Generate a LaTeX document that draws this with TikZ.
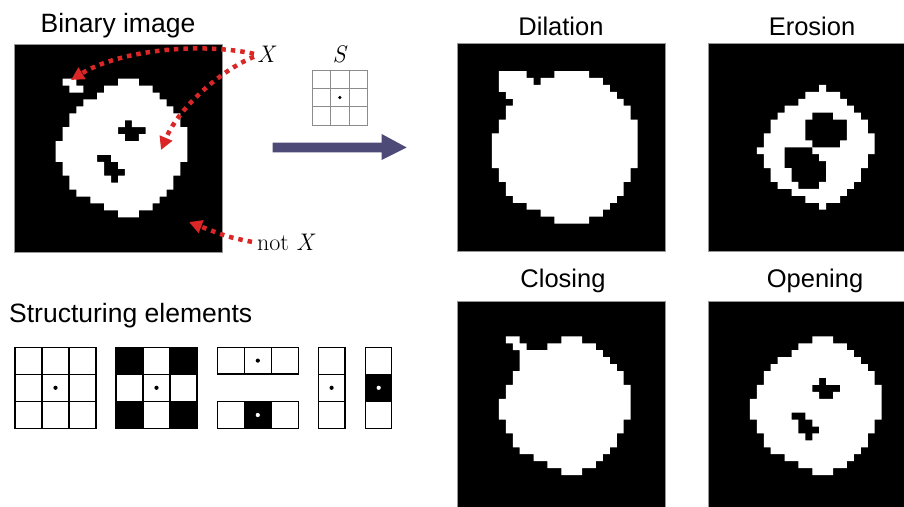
\documentclass[tikz,border=0pt]{standalone}
\usepackage{fontspec}
\setsansfont{Liberation Sans}
\usetikzlibrary{arrows.meta}

\definecolor{dotred}{RGB}{218,38,38}
\definecolor{flowarrow}{RGB}{78,74,120}
\definecolor{framegray}{RGB}{150,150,150}
\definecolor{sgridgray}{RGB}{140,140,140}

% ---- 30x30 binary images and 3x3 morphology --------------------------
% a pixel (r,c) of image <n> is white when \px/<n>/<r>/<c> is defined
\def\mrpx{6.93333}
\newcount\mrhits
\newcommand\mrseed[2]{%
  \foreach \rr/\aa/\bb in {#2}{%
    \foreach \cc in {\aa,...,\bb}{%
      \expandafter\gdef\csname px/#1/\the\numexpr\rr\relax/\the\numexpr\cc\relax\endcsname{}}}}
\newcommand\mrchk[3]{%
  \ifcsname px/#1/\the\numexpr#2\relax/\the\numexpr#3\relax\endcsname
    \global\advance\mrhits by 1\relax
  \fi}
% #3 = 1 gives dilation, #3 = 9 gives erosion
\newcommand\mrop[3]{%
  \foreach \ri in {0,...,29}{%
    \foreach \ci in {0,...,29}{%
      \global\mrhits=0\relax
      \mrchk{#1}{\ri-1}{\ci-1}\mrchk{#1}{\ri-1}{\ci}\mrchk{#1}{\ri-1}{\ci+1}%
      \mrchk{#1}{\ri}{\ci-1}\mrchk{#1}{\ri}{\ci}\mrchk{#1}{\ri}{\ci+1}%
      \mrchk{#1}{\ri+1}{\ci-1}\mrchk{#1}{\ri+1}{\ci}\mrchk{#1}{\ri+1}{\ci+1}%
      \ifnum\mrhits<#3\relax\else
        \expandafter\gdef\csname px/#2/\ri/\ci\endcsname{}%
      \fi}}}
\newcommand\mrbuild[3]{%
  \gdef\mrpath{}%
  \foreach \ri in {0,...,29}{%
    \foreach \ci in {0,...,29}{%
      \ifcsname px/#1/\ri/\ci\endcsname
        \xdef\mrpath{\mrpath(#2+\ci*\mrpx,#3+\ri*\mrpx)rectangle++(\mrpx,\mrpx)}%
      \fi}}}
\newcommand\mrimage[3]{%
  \fill[black] (#2,#3) rectangle ++(208,208);
  \mrbuild{#1}{#2}{#3}%
  \fill[white] \mrpath;
  \draw[framegray, line width=0.8pt] (#2,#3) rectangle ++(208,208);}

\tikzset{
  ttl/.style={font=\sffamily\fontsize{25.5}{30}\selectfont, inner sep=0pt, anchor=base},
  bigttl/.style={ttl, font=\sffamily\fontsize{26.5}{31}\selectfont},
  lab/.style={font=\fontsize{24}{28}\selectfont, inner sep=0pt},
  redarrow/.style={dotred, line width=4.5pt, dash pattern=on 4.5pt off 5pt,
    -{Triangle[length=13pt,width=13pt]}},
  seline/.style={draw=black, line width=1.1pt},
}

\begin{document}
\begin{tikzpicture}[x=1pt, y=-1pt]
\useasboundingbox (0,0) rectangle (904,506);
\fill[white] (0,0) rectangle (904,506);

% source image X and its transforms
\mrseed{X}{5/7/8,5/15/17,6/8/9,6/13/19,7/12/20,8/10/21,9/9/22,10/8/23,
  11/8/15,11/17/23,12/7/14,12/19/24,13/7/15,13/18/24,14/6/24,15/6/24,
  16/6/11,16/14/24,17/7/12,17/15/23,18/7/12,18/16/23,19/8/13,19/15/22,
  20/8/22,21/9/21,22/11/20,23/13/19,24/15/17}
\mrop{X}{D}{1}
\mrop{X}{E}{9}
\mrop{D}{C}{9}
\mrop{E}{O}{1}

\mrimage{X}{14}{44}
\mrimage{D}{457.3}{43.3}
\mrimage{E}{708.3}{43.3}
\mrimage{C}{457.3}{301.7}
\mrimage{O}{708.3}{301.7}

% titles
\node[bigttl] (tbin) at (118,32) {Binary image};
\node[ttl] (tdil) at (561,35) {Dilation};
\node[ttl] (tero) at (812,35) {Erosion};
\node[ttl] (tclo) at (563,287) {Closing};
\node[ttl] (topn) at (815,287) {Opening};
\node[bigttl, anchor=base west] (tse) at (9,322) {Structuring elements};

% labels and pointers
\node[lab, anchor=base west] (lx) at (257,62) {\textit{X}};
\node[lab, anchor=base west] (lnx) at (257,250) {not \textit{X}};
\node[lab, anchor=base] (ls) at (340,62) {\textit{S}};

\coordinate (blobtip) at (71,80);
\coordinate (holetip) at (161,150);
\coordinate (bgtip) at (189,222);
\draw[redarrow] ([xshift=-3pt]lx.west) .. controls (200,42) and (120,50) .. (blobtip);
\draw[redarrow] ([xshift=-3pt,yshift=-3pt]lx.west) .. controls (225,68) and (180,105) .. (holetip);
\draw[redarrow] ([xshift=-5pt]lnx.west) .. controls (228,237) .. (bgtip);

% structuring element S
\foreach \i in {0,1,2}{\foreach \j in {0,1,2}{
  \draw[sgridgray, line width=0.8pt] (312.3+\i*18.33,70+\j*18.33) rectangle ++(18.33,18.33);}}
\fill (339.8,97.5) circle (1.8);

% process arrow
\fill[flowarrow] (272.7,142.7) -- (381.7,142.7) -- (381.7,134) -- (406.7,147.5)
  -- (381.7,160) -- (381.7,152.3) -- (272.7,152.3) -- cycle;

% structuring elements: full 3x3
\foreach \i in {0,1,2}{\foreach \j in {0,1,2}{
  \draw[seline] (15+\i*27,347.3+\j*27) rectangle ++(27,27);}}
\fill (55.5,387.8) circle (2.1);
% 3x3 with ignored corners
\foreach \i/\j in {0/0,2/0,0/2,2/2}{
  \fill[black] (116+\i*27,347.3+\j*27) rectangle ++(27,27);}
\foreach \i in {0,1,2}{\foreach \j in {0,1,2}{
  \draw[seline] (116+\i*27,347.3+\j*27) rectangle ++(27,27);}}
\fill (156.5,387.8) circle (2.1);
% horizontal rows
\foreach \i in {0,1,2}{
  \draw[seline] (217.3+\i*27,347.3) rectangle ++(27,26.7);}
\fill (257.8,360.6) circle (2.1);
\fill[black] (244.3,401.7) rectangle ++(27,26.7);
\foreach \i in {0,1,2}{
  \draw[seline] (217.3+\i*27,401.7) rectangle ++(27,26.7);}
\fill[white] (257.8,415) circle (2.1);
% vertical columns
\foreach \j in {0,1,2}{
  \draw[seline] (318.3,347.3+\j*27) rectangle ++(26.7,27);}
\fill (331.6,387.8) circle (2.1);
\fill[black] (365.7,374.3) rectangle ++(26,27);
\foreach \j in {0,1,2}{
  \draw[seline] (365.7,347.3+\j*27) rectangle ++(26,27);}
\fill[white] (378.7,387.8) circle (2.1);
\end{tikzpicture}
\end{document}
